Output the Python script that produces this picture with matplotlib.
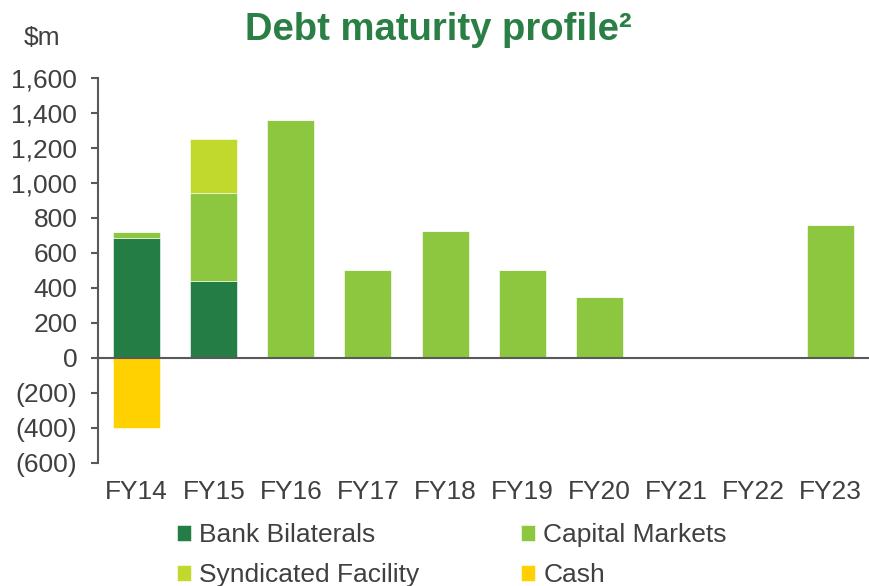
import matplotlib.pyplot as plt
import numpy as np

plt.rcParams['font.family'] = ['Liberation Sans', 'DejaVu Sans']

years = ['FY14', 'FY15', 'FY16', 'FY17', 'FY18', 'FY19', 'FY20', 'FY21', 'FY22', 'FY23']
bank = [685, 440, 0, 0, 0, 0, 0, 0, 0, 0]
capital = [35, 500, 1360, 500, 725, 500, 350, 0, 0, 760]
syndicated = [0, 310, 0, 0, 0, 0, 0, 0, 0, 0]
cash = [-400, 0, 0, 0, 0, 0, 0, 0, 0, 0]

c_bank = '#257D46'
c_cap = '#8DC63F'
c_syn = '#C1D92D'
c_cash = '#FFD100'
txt = '#404040'

fig = plt.figure(figsize=(8.69, 5.86), dpi=100)
ax = fig.add_axes([0.113, 0.21, 0.887, 0.657])

x = np.arange(len(years))
w = 0.61
bank = np.array(bank)
capital = np.array(capital)
syndicated = np.array(syndicated)

b1 = ax.bar(x, bank, w, color=c_bank, label='Bank Bilaterals', edgecolor='white', linewidth=0.4)
b2 = ax.bar(x, capital, w, bottom=bank, color=c_cap, label='Capital Markets', edgecolor='white', linewidth=0.4)
b3 = ax.bar(x, syndicated, w, bottom=bank + capital, color=c_syn, label='Syndicated Facility', edgecolor='white', linewidth=0.4)
b4 = ax.bar(x, cash, w, color=c_cash, label='Cash', edgecolor='white', linewidth=0.4)

ax.set_xlim(-0.5, 9.5)
ax.set_ylim(-600, 1600)
ticks = np.arange(-600, 1601, 200)
ax.set_yticks(ticks)
ax.set_yticklabels([f'({abs(t):,})' if t < 0 else f'{t:,}' for t in ticks])
ax.set_xticks(x)
ax.set_xticklabels(years)

for s in ['top', 'right', 'bottom']:
    ax.spines[s].set_visible(False)
ax.spines['left'].set_color('#595959')
ax.spines['left'].set_linewidth(1.5)
ax.axhline(0, color='#595959', linewidth=1.5, zorder=3)
ax.tick_params(axis='y', length=5, width=1.5, color='#595959', labelsize=19, labelcolor=txt, pad=10)
ax.tick_params(axis='x', length=0, labelsize=19, labelcolor=txt, pad=12)

fig.text(0.504, 0.948, 'Debt maturity profile²', ha='center', va='center',
         fontsize=27.5, fontweight='bold', color='#2A7F44')
fig.text(0.048, 0.935, '$m', ha='center', va='center', fontsize=19, color=txt)

# column-wise fill, so order gives rows: Bank / Capital, Syndicated / Cash
fig.legend([b1, b3, b2, b4],
           ['Bank Bilaterals', 'Syndicated Facility', 'Capital Markets', 'Cash'],
           ncol=2, loc='lower left', bbox_to_anchor=(0.176, -0.043),
           frameon=False, fontsize=19, handlelength=0.55, handleheight=0.55,
           handletextpad=0.3, columnspacing=3.85, labelspacing=0.62, labelcolor=txt)

fig.savefig('out.png', dpi=100)
